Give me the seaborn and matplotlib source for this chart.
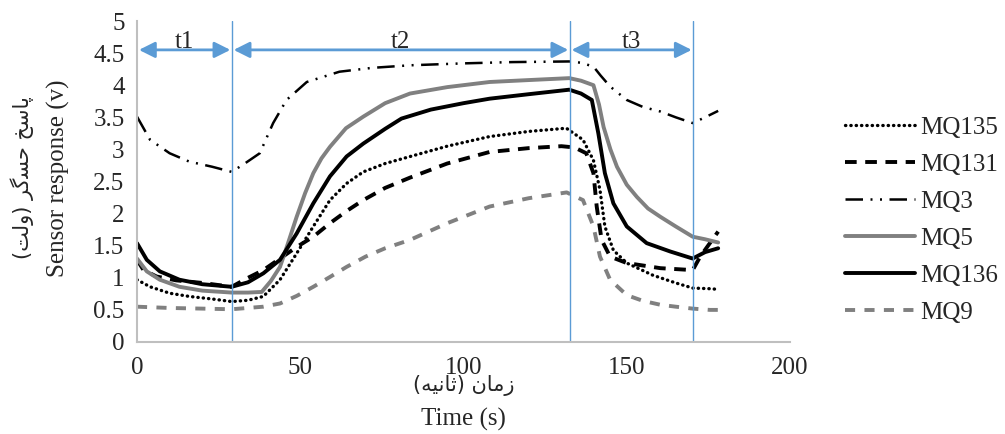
import matplotlib
matplotlib.use("Agg")
import matplotlib.pyplot as plt
import seaborn as sns

# === Data ===
mq135_t = [0, 4, 10, 16, 23, 29, 34, 38.7, 43.8, 48.9, 54, 59.1, 64.2, 69.3, 76, 83, 95, 108, 120,
           131.5, 136.6, 139.8, 141.8, 143.3, 145.9, 150, 158, 165, 170.2, 175.5, 178]
mq135_v = [0.97, 0.86, 0.76, 0.71, 0.67, 0.63, 0.65, 0.71, 0.97, 1.38, 1.80, 2.21, 2.47, 2.65, 2.78,
           2.88, 3.05, 3.20, 3.28, 3.33, 3.15, 2.83, 2.37, 1.80, 1.43, 1.23, 1.04, 0.92, 0.84, 0.83, 0.82]

mq131_t = [0, 2, 6, 12, 20, 29, 34, 38.7, 43.8, 48.9, 54, 59.1, 64.2, 69.3, 76, 83.6, 95, 108, 120,
           130, 134, 137.6, 139.8, 140.8, 142.3, 144.9, 150, 160.3, 170.2, 172.5, 178]
mq131_v = [1.28, 1.12, 1.02, 0.96, 0.92, 0.86, 1.00, 1.12, 1.30, 1.48, 1.64, 1.85, 2.04, 2.21, 2.40,
           2.56, 2.78, 2.96, 3.02, 3.05, 3.03, 2.94, 2.63, 2.11, 1.59, 1.33, 1.23, 1.15, 1.12, 1.33, 1.72]

mq3_t = [0, 4, 10, 16, 23, 29, 33, 37.6, 41.7, 45.8, 52, 62, 72, 83.6, 100, 115, 132.4, 136, 139.8,
         142, 144.9, 150, 155, 160.3, 165, 170.2, 174, 178]
mq3_v = [3.51, 3.15, 2.94, 2.81, 2.73, 2.65, 2.78, 2.94, 3.41, 3.77, 4.05, 4.21, 4.27, 4.31, 4.34,
         4.36, 4.37, 4.35, 4.29, 4.15, 3.98, 3.77, 3.66, 3.59, 3.50, 3.41, 3.50, 3.60]

mq5_t = [0, 3, 7, 13, 20, 29, 34, 38.2, 41, 43.8, 46, 48.9, 51.5, 54, 56.5, 59.1, 64, 69.3, 76, 83.6,
         95, 108, 120, 132.4, 136, 139.8, 141.5, 142.9, 145, 147, 150, 153.1, 156.5, 160.3, 165,
         170.2, 174, 178]
mq5_v = [1.30, 1.10, 0.97, 0.86, 0.80, 0.77, 0.77, 0.78, 0.95, 1.17, 1.50, 1.95, 2.32, 2.63, 2.86,
         3.04, 3.33, 3.51, 3.72, 3.87, 3.97, 4.05, 4.08, 4.11, 4.07, 4.00, 3.70, 3.35, 3.00, 2.73,
         2.45, 2.26, 2.08, 1.95, 1.80, 1.64, 1.60, 1.55]

mq136_t = [0, 3, 7, 13, 20, 29, 34, 38.7, 43.8, 48.9, 54, 59.1, 64.2, 69.3, 76, 81, 90, 100, 108,
           120, 132.4, 136, 139.3, 141.3, 143.3, 145.9, 150, 156.1, 163.3, 170.2, 174, 178]
mq136_v = [1.54, 1.28, 1.10, 0.97, 0.90, 0.86, 0.93, 1.07, 1.28, 1.69, 2.16, 2.58, 2.89, 3.09, 3.32,
           3.48, 3.62, 3.72, 3.79, 3.86, 3.93, 3.87, 3.77, 3.25, 2.63, 2.16, 1.80, 1.54, 1.41, 1.30,
           1.40, 1.46]

mq9_t = [0, 10, 20, 29, 38.7, 43.8, 49, 54, 59, 64.2, 70, 76, 83.6, 95, 108, 120, 131.6, 136.6,
         139.8, 141.8, 144.9, 150, 155, 160.3, 165, 170.2, 175.5, 178]
mq9_v = [0.55, 0.53, 0.52, 0.51, 0.55, 0.60, 0.72, 0.86, 1.01, 1.17, 1.33, 1.46, 1.59, 1.85, 2.11,
         2.24, 2.33, 2.21, 1.80, 1.33, 0.97, 0.73, 0.64, 0.58, 0.55, 0.52, 0.50, 0.50]

phase_bounds = [0, 29, 132.5, 170.3]
phase_labels = ["t1", "t2", "t3"]
y_ticks = [0, 0.5, 1, 1.5, 2, 2.5, 3, 3.5, 4, 4.5, 5]
y_tick_labels = ["0", "0.5", "1", "1.5", "2", "2.5", "3", "3.5", "4", "4.5", "5"]
x_ticks = [0, 50, 100, 150, 200]

# Persian labels, written in visual order with Arabic presentation forms
fa_ylabel = "(\uFE96\uFEDF\uFEED) \uFEAE\uFB94\uFEB4\uFEA3 \uFEA6\uFEB3\uFE8E\uFB58"
fa_xlabel = "(\uFEEA\uFEF4\uFEE7\uFE8E\uFE9B) \uFEE5\uFE8E\uFEE3\uFEAF"

# === Style ===
sns.set_style("white")
plt.rcParams['font.family'] = ['Liberation Serif', 'DejaVu Sans']
BLUE = "#5B9BD5"
GREY = "#808080"
TXT = "#262626"

fig = plt.figure(figsize=(10.05, 4.34), dpi=100)
ax = fig.add_axes([137 / 1005, 1 - 342 / 434, (790 - 137) / 1005, (342 - 21) / 434])

# === Series ===
sns.lineplot(x=mq135_t, y=mq135_v, ax=ax, color="black", lw=2.4, linestyle=(0, (0.1, 1.5)),
             dash_capstyle="round", label="MQ135", sort=False, estimator=None)
sns.lineplot(x=mq131_t, y=mq131_v, ax=ax, color="black", lw=2.8, linestyle=(0, (3, 2.2)),
             label="MQ131", sort=False, estimator=None)
sns.lineplot(x=mq3_t, y=mq3_v, ax=ax, color="black", lw=1.8, linestyle=(0, (7, 3, 0.8, 3, 0.8, 3)),
             label="MQ3", sort=False, estimator=None)
sns.lineplot(x=mq5_t, y=mq5_v, ax=ax, color=GREY, lw=2.8, linestyle="-",
             label="MQ5", sort=False, estimator=None)
sns.lineplot(x=mq136_t, y=mq136_v, ax=ax, color="black", lw=2.8, linestyle="-",
             label="MQ136", sort=False, estimator=None)
sns.lineplot(x=mq9_t, y=mq9_v, ax=ax, color=GREY, lw=2.8, linestyle=(0, (2.6, 2.4)),
             label="MQ9", sort=False, estimator=None)

# === Phase markers ===
for xb in phase_bounds[1:]:
    ax.axvline(xb, ymin=0, ymax=1, color=BLUE, lw=1)

for i, lab in enumerate(phase_labels):
    x0, x1 = phase_bounds[i], phase_bounds[i + 1]
    ax.annotate("", xy=(x1 - 0.4, 4.55), xytext=(x0 + 0.6, 4.55),
                arrowprops=dict(arrowstyle="<|-|>,head_length=0.8,head_width=0.4",
                                color=BLUE, lw=2, mutation_scale=12,
                                shrinkA=0, shrinkB=0))
    ax.text((x0 + x1) / 2, 4.5, lab, ha="center", va="bottom", fontsize=18, color=TXT)

# === Axes ===
ax.set_xlim(0, 200)
ax.set_ylim(0, 5)
ax.set_xticks(x_ticks)
ax.set_yticks(y_ticks)
ax.set_yticklabels(y_tick_labels)
ax.tick_params(axis="both", length=0, labelsize=18, labelcolor=TXT)
ax.tick_params(axis="x", pad=11)
ax.tick_params(axis="y", pad=9)
for side in ["top", "right"]:
    ax.spines[side].set_visible(False)
for side in ["left", "bottom"]:
    ax.spines[side].set_color("#bfbfbf")
    ax.spines[side].set_linewidth(1.5)
ax.set_xlabel("")
ax.set_ylabel("")

fig.text(0.461, 1 - 386 / 434, fa_xlabel, ha="center", va="center", fontsize=15,
         family=["DejaVu Sans"], color=TXT)
fig.text(0.461, 1 - 419 / 434, "Time (s)", ha="center", va="center", fontsize=18, color=TXT)
fig.text(58 / 1005, 1 - 178 / 434, "Sensor response (v)", ha="center", va="center",
         rotation=90, fontsize=18, color=TXT)
fig.text(22 / 1005, 1 - 178 / 434, fa_ylabel, ha="center", va="center", rotation=90,
         fontsize=15, family=["DejaVu Sans"], color=TXT)

# === Legend ===
ax.legend(loc="center left", bbox_to_anchor=(845 / 1005, 1 - 220 / 434),
          bbox_transform=fig.transFigure, frameon=False, fontsize=18,
          handlelength=2.8, handletextpad=0.2, labelspacing=0.58,
          borderpad=0, borderaxespad=0, labelcolor=TXT)

plt.savefig("out.png", dpi=100)
